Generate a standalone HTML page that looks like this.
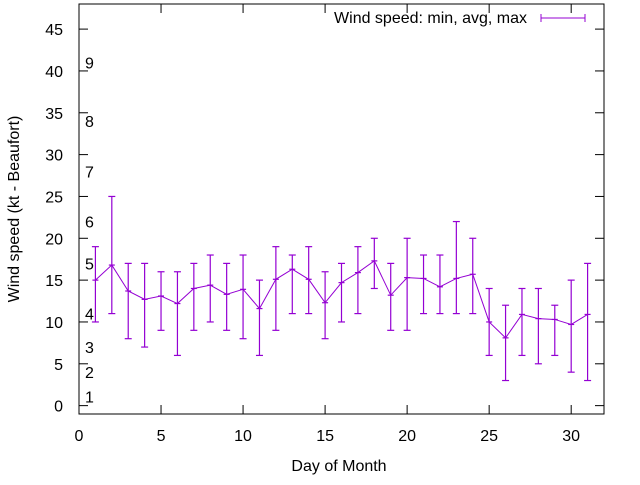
<!DOCTYPE html>
<html><head><meta charset="utf-8"><style>
body{margin:0;background:#fff}
svg{font-family:"Liberation Sans",sans-serif;font-size:16px}
</style></head><body>
<svg id="c" width="640" height="480" xmlns="http://www.w3.org/2000/svg">
<rect width="640" height="480" fill="#fff"/>
<g id="axes"></g>
<g id="beaufort"></g>
<g id="series"></g>
<rect x="79" y="4" width="525" height="410" fill="none" stroke="#000" stroke-width="1"/>
<text x="527" y="23" text-anchor="end">Wind speed: min, avg, max</text>
<g stroke="#9400d3"><line x1="541" y1="18" x2="585" y2="18"/><line x1="541" y1="14" x2="541" y2="22"/><line x1="585" y1="14" x2="585" y2="22"/></g>
<text x="339" y="471" text-anchor="middle">Day of Month</text>
<text transform="translate(19,209) rotate(-90)" text-anchor="middle">Wind speed (kt - Beaufort)</text>
</svg>
<script>
const days=[1,2,3,4,5,6,7,8,9,10,11,12,13,14,15,16,17,18,19,20,21,22,23,24,25,26,27,28,29,30,31];
const minV=[10,11,8,7,9,6,9,10,9,8,6,9,11,11,8,10,11,14,9,9,11,11,11,11,6,3,6,5,6,4,3];
const avgV=[15,16.8,13.7,12.7,13.1,12.2,14,14.4,13.3,13.9,11.6,15.1,16.3,15.1,12.3,14.7,15.9,17.3,13.2,15.3,15.2,14.2,15.2,15.7,10,8.1,10.9,10.4,10.3,9.7,10.9];
const maxV=[19,25,17,17,16,16,17,18,17,18,15,19,18,19,16,17,19,20,17,20,18,18,22,20,14,12,14,14,12,15,17];
const xTicks=[0,5,10,15,20,25,30];
const yTicks=[0,5,10,15,20,25,30,35,40,45];
const bfLabels=["1","2","3","4","5","6","7","8","9"];
const bfValues=[1.1,4,7,11,17,22,28,34,41];
const X=v=>79+v*525/32, Y=v=>414-(v+1)*410/49;
const NS="http://www.w3.org/2000/svg";
function mk(t,a,p){const e=document.createElementNS(NS,t);for(const k in a)e.setAttribute(k,a[k]);p.appendChild(e);return e;}
const ax=document.getElementById('axes');
xTicks.forEach(t=>{const x=X(t);
 const g=mk('g',{stroke:'#000'},ax);
 
 
 mk('line',{x1:x,y1:414,x2:x,y2:405},g);mk('line',{x1:x,y1:4,x2:x,y2:13},g);
 const tx=mk('text',{x:x,y:441,'text-anchor':'middle'},ax);tx.textContent=t;
 
 });
yTicks.forEach(t=>{const y=Y(t);
 const g=mk('g',{stroke:'#000'},ax);
 
 
 mk('line',{x1:79,y1:y,x2:88,y2:y},g);mk('line',{x1:604,y1:y,x2:595,y2:y},g);
 const tx=mk('text',{x:63,y:y+6,'text-anchor':'end'},ax);tx.textContent=t;
 
 });
const bf=document.getElementById('beaufort');
bfLabels.forEach((l,i)=>{const tx=mk('text',{x:85,y:Y(bfValues[i])+6},bf);tx.textContent=l;
 
 });
const s=document.getElementById('series');
const pl=mk('polyline',{points:days.map((d,i)=>X(d)+','+Y(avgV[i])).join(' '),fill:'none',stroke:'#9400d3','stroke-width':1},s);


days.forEach((d,i)=>{const x=X(d);
 const g=mk('g',{stroke:'#9400d3','stroke-width':1.2},s);
 
 
 mk('line',{x1:x,y1:Y(minV[i]),x2:x,y2:Y(maxV[i])},g);
 mk('line',{x1:x-3.5,y1:Y(minV[i]),x2:x+3.5,y2:Y(minV[i])},g);
 mk('line',{x1:x-3.5,y1:Y(maxV[i]),x2:x+3.5,y2:Y(maxV[i])},g);
 mk('line',{x1:x-3,y1:Y(avgV[i]),x2:x+3,y2:Y(avgV[i])},g);});
</script>
</body></html>
